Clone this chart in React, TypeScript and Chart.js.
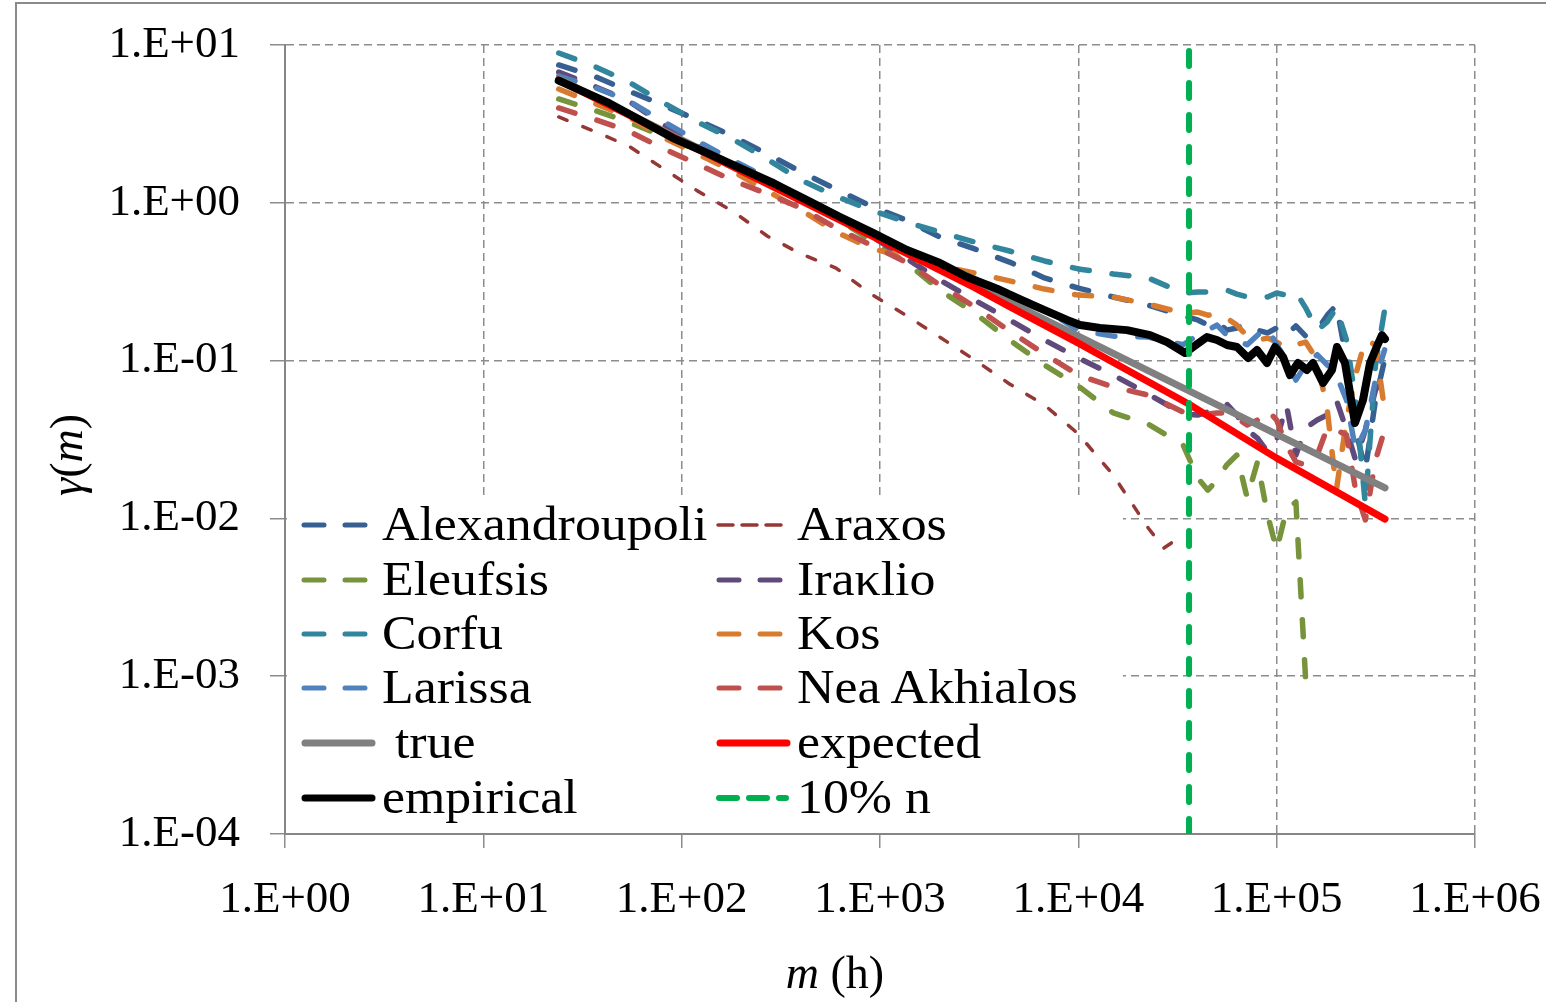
import React, { useEffect, useRef } from "react";
import { Chart, registerables } from "chart.js";

Chart.register(...registerables);

// ---------------- data ----------------
const mGrid = [24, 36, 54, 80, 120, 180, 270, 400, 600, 900, 1350, 2000, 3000, 4500, 6750, 10000, 15000, 22500, 33750,
  40000, 45000, 50000, 56000, 63000, 71000, 80000, 90000, 100000, 112000, 125000, 140000, 160000, 180000, 200000, 225000, 250000, 280000, 315000, 350000];

const alexandroupoli = [7.47, 6.36, 5.11, 4.17, 3.35, 2.65, 2.04, 1.57, 1.22, 0.954, 0.778, 0.607, 0.51, 0.421, 0.334, 0.288, 0.253, 0.225, 0.192,
  0.181, 0.168, 0.176, 0.156, 0.161, 0.171, 0.156, 0.15, 0.161, 0.145, 0.166, 0.143, 0.156, 0.194, 0.225, 0.101, 0.0363, 0.0203, 0.0563, 0.101];
const araxosM = [24, 36, 54, 80, 120, 180, 270, 400, 600, 900, 1350, 2000, 3000, 4500, 6750, 10000, 15000, 22500, 27000, 33750];
const araxos = [3.5, 2.85, 2.29, 1.66, 1.19, 0.887, 0.616, 0.474, 0.386, 0.264, 0.194, 0.141, 0.101, 0.0711, 0.0523, 0.0343, 0.0188, 0.00869, 0.00649, 0.00785];
const eleufsis = [4.55, 3.87, 3.25, 2.65, 2.16, 1.74, 1.335, 1.09, 0.801, 0.581, 0.421, 0.28, 0.2, 0.135, 0.0938, 0.069, 0.0466, 0.0396, 0.0292,
  0.018, 0.0151, 0.0175, 0.0218, 0.0252, 0.0135, 0.0228, 0.0105, 0.0063, 0.0113, 0.0127, 0.000946, null, null, null, null, null, null, null, null];
const iraklio = [6.74, 5.5, 4.42, 3.16, 2.29, 1.79, 1.37, 1.1, 0.837, 0.616, 0.447, 0.324, 0.242, 0.181, 0.135, 0.104, 0.081, 0.0614, 0.0459,
  0.0452, 0.0472, 0.0516, 0.0531, 0.0452, 0.0363, 0.0323, 0.0264, 0.0314, 0.0523, 0.0252, 0.0374, 0.042, 0.0452, 0.0563, 0.0363, 0.0234, 0.0363, 0.0651, 0.081];
const corfu = [8.9, 7.36, 5.83, 4.35, 3.25, 2.54, 1.89, 1.39, 1.1, 0.9, 0.756, 0.653, 0.564, 0.495, 0.428, 0.381, 0.354, 0.334, 0.268,
  0.272, 0.272, 0.276, 0.28, 0.264, 0.253, 0.249, 0.253, 0.268, 0.26, 0.272, 0.216, 0.156, 0.176, 0.216, 0.135, 0.0563, 0.0122, 0.0938, 0.209];
const kos = [5.26, 4.29, 3.5, 2.61, 2.04, 1.59, 1.19, 0.9, 0.653, 0.517, 0.447, 0.398, 0.359, 0.32, 0.284, 0.26, 0.253, 0.228, 0.2,
  0.203, 0.194, 0.197, 0.186, 0.168, 0.143, 0.135, 0.139, 0.131, 0.12, 0.126, 0.131, 0.101, 0.0486, 0.0151, 0.042, 0.081, 0.135, 0.126, 0.0486];
const larissa = [6.36, 5.42, 4.42, 3.3, 2.46, 1.87, 1.44, 1.07, 0.801, 0.634, 0.488, 0.403, 0.334, 0.268, 0.212, 0.156, 0.143, 0.141, 0.126,
  0.145, 0.156, 0.168, 0.145, 0.135, 0.126, 0.145, 0.161, 0.126, 0.101, 0.0753, 0.0938, 0.109, 0.0938, 0.081, 0.0563, 0.0271, 0.0363, 0.0753, 0.117];
const neaAkhialos = [3.99, 3.4, 2.85, 2.22, 1.76, 1.39, 1.14, 0.927, 0.692, 0.54, 0.421, 0.301, 0.219, 0.154, 0.11, 0.081, 0.068, 0.0605, 0.0472,
  0.0459, 0.0459, 0.0466, 0.0466, 0.0433, 0.0391, 0.042, 0.0486, 0.042, 0.0292, 0.0228, 0.0218, 0.0252, 0.0374, 0.0363, 0.0338, 0.0151, 0.00977, 0.0234, 0.0363];

const trueM = [24, 1000, 10000, 351900];
const trueG = [6.11, 0.598, 0.143, 0.0156];

const expectedM = [24, 1000, 3000, 4500, 10000, 36000, 100000, 351900];
const expectedG = [6.0, 0.58, 0.29, 0.22, 0.129, 0.0531, 0.0241, 0.0099];

const empiricalM = [24, 42, 61.7, 90.4, 134, 181.5, 289, 428, 629, 922, 1368, 2007, 2746, 4030, 5907, 8770, 10200, 12860, 17600, 22990, 28000,
  34500, 37900, 44550, 50000, 56200, 63100, 71730, 79600, 89400, 98100, 107700, 116700, 128100, 142200, 152500, 171300, 190100, 201500,
  221100, 234300, 248300, 272500, 295600, 319400, 339600, 351600];
const empiricalG = [5.95, 4.35, 3.35, 2.57, 2.07, 1.74, 1.335, 1.04, 0.813, 0.644, 0.502, 0.415, 0.339, 0.28, 0.225, 0.181, 0.168, 0.161, 0.156, 0.145, 0.131,
  0.1117, 0.122, 0.141, 0.135, 0.1256, 0.122, 0.1039, 0.1167, 0.0966, 0.122, 0.1054, 0.081, 0.0966, 0.0872, 0.0966, 0.0721, 0.0872, 0.122,
  0.0966, 0.0623, 0.0402, 0.0563, 0.0966, 0.122, 0.145, 0.137];

const tenPctN = 36150;
const tenPctRange = [1e-4, 10];

const xTickValues = [1, 10, 100, 1000, 10000, 100000, 1000000];
const yTickValues = [1e-4, 1e-3, 1e-2, 1e-1, 1, 10];

// ---------------- styling ----------------
const FONT = "'Liberation Serif', 'Times New Roman', serif";
const GRID = "#8c8c8c";

type Kind = "dash" | "short" | "solid" | "green";

const pts = (xs: number[], ys: (number | null)[]) =>
  xs.map((x, i) => ({ x, y: ys[i] })).filter((p) => p.y !== null && p.y !== undefined);

const series: { label: string; color: string; kind: Kind; xs: number[]; ys: (number | null)[]; width: number }[] = [
  { label: "Alexandroupoli", color: "#376092", kind: "dash", xs: mGrid, ys: alexandroupoli, width: 5.5 },
  { label: "Araxos", color: "#953735", kind: "short", xs: araxosM, ys: araxos, width: 3.5 },
  { label: "Eleufsis", color: "#77933C", kind: "dash", xs: mGrid, ys: eleufsis, width: 5.5 },
  { label: "Iraκlio", color: "#604A7B", kind: "dash", xs: mGrid, ys: iraklio, width: 5.5 },
  { label: "Corfu", color: "#31859C", kind: "dash", xs: mGrid, ys: corfu, width: 5.5 },
  { label: "Kos", color: "#D97B2F", kind: "dash", xs: mGrid, ys: kos, width: 5.5 },
  { label: "Larissa", color: "#4F81BD", kind: "dash", xs: mGrid, ys: larissa, width: 5.5 },
  { label: "Nea Akhialos", color: "#C0504D", kind: "dash", xs: mGrid, ys: neaAkhialos, width: 5.5 },
  { label: " true", color: "#808080", kind: "solid", xs: trueM, ys: trueG, width: 7 },
  { label: "expected", color: "#FF0000", kind: "solid", xs: expectedM, ys: expectedG, width: 7 },
  { label: "empirical", color: "#000000", kind: "solid", xs: empiricalM, ys: empiricalG, width: 8 },
  { label: "10% n", color: "#00B050", kind: "green", xs: [tenPctN, tenPctN], ys: tenPctRange, width: 6 },
];

const dashFor = (k: Kind): number[] => {
  if (k === "dash") return [17, 23];
  if (k === "short") return [9, 17];
  if (k === "green") return [15, 17];
  return [];
};

const fmtExp = (v: number) => {
  const e = Math.round(Math.log10(v));
  return `1.E${e < 0 ? "-" : "+"}${String(Math.abs(e)).padStart(2, "0")}`;
};

const rowBase = [540, 595, 649, 703, 758, 813];
const colSample = [300, 715];
const colText = [382, 797];

function Sample({ kind, color }: { kind: Kind; color: string }) {
  let line;
  if (kind === "dash")
    line = <line x1={4} x2={65} y1={8} y2={8} stroke={color} strokeWidth={5} strokeDasharray="20 21" strokeLinecap="round" />;
  else if (kind === "short")
    line = <line x1={3} x2={72} y1={8} y2={8} stroke={color} strokeWidth={3.5} strokeDasharray="15 9" strokeLinecap="round" />;
  else if (kind === "green")
    line = <line x1={4} x2={71} y1={8} y2={8} stroke={color} strokeWidth={6} strokeDasharray="18 12" strokeLinecap="round" />;
  else line = <line x1={5} x2={72} y1={8} y2={8} stroke={color} strokeWidth={7} strokeLinecap="round" />;
  return (
    <svg width={80} height={16} style={{ display: "block" }}>
      {line}
    </svg>
  );
}

export default function App() {
  const ref = useRef<HTMLCanvasElement | null>(null);

  useEffect(() => {
    const canvas = ref.current;
    if (!canvas) return;
    const n = series.length;
    const datasets = series.map((s, i) => ({
      label: s.label.trim(),
      data: pts(s.xs, s.ys),
      borderColor: s.color,
      backgroundColor: s.color,
      borderWidth: s.width,
      borderDash: dashFor(s.kind),
      borderCapStyle: "round",
      borderJoinStyle: "round",
      pointRadius: 0,
      pointHoverRadius: 0,
      fill: false,
      tension: 0,
      order: n - i,
    }));

    const tickFont = { family: FONT, size: 45 };
    const chart = new Chart(canvas, {
      type: "line",
      data: { datasets: datasets as any },
      options: {
        responsive: false,
        animation: false,
        events: [],
        layout: { padding: { top: 45, right: 71, left: 0, bottom: 0 } },
        plugins: { legend: { display: false }, tooltip: { enabled: false }, title: { display: false } },
        scales: {
          x: {
            type: "logarithmic",
            position: "bottom",
            min: 1,
            max: 1e6,
            afterBuildTicks: (s: any) => {
              s.ticks = xTickValues.map((v) => ({ value: v }));
            },
            afterFit: (s: any) => {
              s.height = 168;
              s.paddingLeft = 0;
              s.paddingRight = 0;
              s.paddingTop = 0;
              s.paddingBottom = 0;
            },
            ticks: {
              callback: (v: any) => fmtExp(Number(v)),
              font: tickFont,
              color: "#000",
              padding: 25,
              maxRotation: 0,
              minRotation: 0,
              autoSkip: false,
            },
            grid: { color: GRID, lineWidth: 1.5, tickLength: 14, tickColor: GRID, tickWidth: 1.5, drawTicks: true },
            border: { display: true, color: "#868686", width: 2, dash: [8, 5] },
          },
          y: {
            type: "logarithmic",
            position: "left",
            min: 1e-4,
            max: 10,
            afterBuildTicks: (s: any) => {
              s.ticks = yTickValues.map((v) => ({ value: v }));
            },
            afterFit: (s: any) => {
              s.width = 285;
              s.paddingLeft = 0;
              s.paddingRight = 0;
              s.paddingTop = 0;
              s.paddingBottom = 0;
            },
            ticks: {
              callback: (v: any) => fmtExp(Number(v)),
              font: tickFont,
              color: "#000",
              padding: 30,
              autoSkip: false,
            },
            grid: { color: GRID, lineWidth: 1.5, tickLength: 15, tickColor: GRID, tickWidth: 1.5, drawTicks: true },
            border: { display: true, color: "#868686", width: 2, dash: [8, 5] },
          },
        },
      } as any,
    });
    return () => chart.destroy();
  }, []);

  return (
    <div
      style={{
        position: "absolute",
        left: 0,
        top: 0,
        width: 1546,
        height: 1002,
        background: "#fff",
        overflow: "hidden",
        fontFamily: FONT,
        color: "#000",
      }}
    >
      <div
        style={{
          position: "absolute",
          left: 15,
          top: 2,
          width: 1600,
          height: 1100,
          border: "2px solid #8a8a8a",
          boxSizing: "border-box",
        }}
      />
      <canvas ref={ref} width={1546} height={1002} style={{ position: "absolute", left: 0, top: 0, width: 1546, height: 1002 }} />

      {/* legend box */}
      <div style={{ position: "absolute", left: 287, top: 497, width: 836, height: 336, background: "#fff" }} />
      {series.map((s, i) => {
        const col = i < 8 ? i % 2 : (i - 8) % 2;
        const row = i < 8 ? Math.floor(i / 2) : 4 + Math.floor((i - 8) / 2);
        const base = rowBase[row];
        return (
          <React.Fragment key={s.label}>
            <div style={{ position: "absolute", left: colSample[col], top: base - 15 - 8 }}>
              <Sample kind={s.kind} color={s.color} />
            </div>
            <div
              style={{
                position: "absolute",
                left: colText[col],
                top: base - 40,
                fontSize: 48,
                lineHeight: "48px",
                whiteSpace: "pre",
                transform: "scaleX(1.08)",
                transformOrigin: "left center",
              }}
            >
              {s.label}
            </div>
          </React.Fragment>
        );
      })}

      {/* y axis title */}
      <div
        style={{
          position: "absolute",
          left: 67,
          top: 455,
          transform: "translate(-50%, -50%) rotate(-90deg)",
          fontSize: 46,
          lineHeight: "46px",
          whiteSpace: "nowrap",
        }}
      >
        <i>γ</i>(<i>m</i>)
      </div>

      {/* x axis title */}
      <div
        style={{
          position: "absolute",
          left: 835,
          top: 973,
          transform: "translate(-50%, -50%)",
          fontSize: 46,
          lineHeight: "46px",
          whiteSpace: "nowrap",
        }}
      >
        <i>m</i> (h)
      </div>
    </div>
  );
}
